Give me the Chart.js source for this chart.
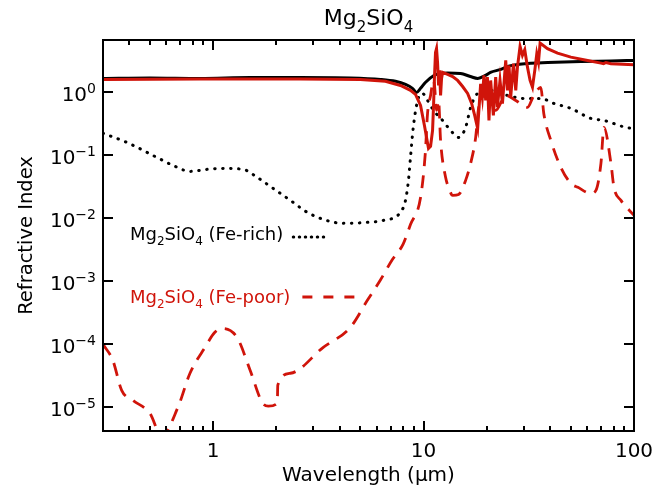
<!DOCTYPE html>
<html>
<head>
<meta charset="utf-8">
<script src="https://cdn.jsdelivr.net/npm/chart.js@4"></script>
<style>
  html, body { margin: 0; padding: 0; background: #fff; }
</style>
</head>
<body>
<canvas id="chart" width="654" height="492"></canvas>
<script>
// Wavelength (micron) and refractive index values

// Fe-rich, real part (black solid)
const richN_wl = [0.30, 0.50, 0.87, 1.50, 2.60, 4.49, 6.24, 7.36, 8.21, 8.86, 9.26, 9.68, 10.2, 11.2, 12.0, 13.0, 15.0, 16.7, 18.1, 19.7, 20.8, 23.3, 25.1, 31.3, 38.9, 55.9, 77.7, 100];
const richN    = [1.67, 1.70, 1.67, 1.73, 1.73, 1.70, 1.61, 1.50, 1.34, 1.16, 1.00, 1.16, 1.44, 1.86, 2.00, 2.04, 2.00, 1.79, 1.67, 1.86, 2.08, 2.32, 2.59, 2.89, 2.99, 3.10, 3.16, 3.22];

// Fe-rich, imaginary part (black dotted)
const richK_wl = [0.30, 0.389, 0.541, 0.645, 0.777, 0.936, 1.12, 1.39, 1.62, 1.93, 2.33, 2.80, 3.34, 4.16, 5.41, 6.45, 7.77, 8.21, 8.48, 8.67, 8.96, 9.47, 9.89, 10.45, 11.16, 12.32, 13.45, 14.68, 15.85, 16.74, 18.08, 20.84, 25.1, 29.9, 36.1, 41.6, 50.1, 62.4, 72.0, 91.6, 100];
const richK    = [0.224, 0.161, 0.0929, 0.0694, 0.0557, 0.0600, 0.0622, 0.0600, 0.0448, 0.0299, 0.0193, 0.0125, 0.00964, 0.00833, 0.00865, 0.00929, 0.0125, 0.0193, 0.0401, 0.0929, 0.299, 0.833, 0.964, 0.746, 0.518, 0.359, 0.249, 0.193, 0.278, 0.578, 0.964, 1.08, 0.896, 0.803, 0.803, 0.669, 0.557, 0.386, 0.359, 0.278, 0.268];

// Fe-poor, real part (red solid)
const poorN_wl = [0.30, 0.867, 2.60, 5.01, 6.59, 7.77, 8.67, 9.16, 9.68, 10.1, 10.56, 10.80, 11.04, 11.16, 11.28, 11.40, 11.53, 11.66, 11.79, 11.92, 12.05, 12.18, 12.32, 13.01, 13.75, 14.52, 15.34, 16.20, 16.93, 17.50, 18.08,
                  18.68, 19.03, 19.37, 19.74, 20.11, 20.46, 20.84, 21.47, 22.02, 22.44, 23.09, 23.71, 24.58, 25.04, 25.48, 25.96, 26.74, 27.43, 27.94, 28.75, 29.51, 30.27, 31.18, 32.08, 32.93, 33.78, 34.52, 35.17, 35.80,
                  38.81, 43.32, 50.12, 60.20, 69.65, 71.73, 73.56, 77.71, 100];
const poorN    = [1.61, 1.64, 1.64, 1.61, 1.50, 1.29, 1.08, 0.93, 0.622, 0.299, 0.129, 0.139, 0.249, 0.622, 1.86, 4.32, 4.99, 2.99, 1.29, 2.24, 0.896, 1.67, 2.08, 1.93, 1.79, 1.55, 1.24, 0.964, 0.669, 0.431, 0.268,
                  1.37, 0.842, 1.86, 0.746, 1.75, 0.359, 1.55, 0.431, 1.75, 0.584, 1.55, 0.662, 3.22, 1.08, 2.68, 0.842, 2.86, 1.08, 2.52, 5.37, 3.87, 4.76, 2.52, 1.55, 1.21, 2.24, 4.11, 3.03, 6.06,
                  4.94, 4.21, 3.63, 3.22, 2.92, 2.86, 2.99, 2.86, 2.75];

// Fe-poor, imaginary part (red dashed)
const poorK_wl = [0.30, 0.334, 0.368, 0.416, 0.501, 0.57, 0.681, 0.777, 0.916, 1.02, 1.10, 1.30, 1.50, 1.71, 1.83, 2.02, 2.03, 2.33, 3.34, 4.49, 5.41, 6.24, 7.10, 8.00, 8.67, 9.68, 10.2, 10.45, 10.80, 11.16, 11.28, 11.53, 11.79, 12.05, 12.73, 13.15, 13.75, 14.68, 15.85, 16.74, 17.69, 18.28,
                  19.74, 22.02, 24.58, 27.43, 31.18, 33.41, 36.07, 37.27, 40.26, 44.92, 50.12, 54.12, 62.40, 65.92, 69.65, 71.97, 77.71, 80.32, 86.7, 100];
const poorK    = [1.0e-4, 5.57e-5, 1.86e-5, 1.29e-5, 8.03e-6, 3.5e-6, 1.0e-5, 3.47e-5, 8.96e-5, 1.55e-4, 1.79e-4, 1.29e-4, 3.87e-5, 1.20e-5, 1.04e-5, 1.16e-5, 2.24e-5, 3.47e-5, 8.96e-5, 1.86e-4, 4.99e-4, 1.05e-3, 2.2e-3, 3.9e-3, 8.0e-3, 0.0215, 0.11, 0.464, 0.896, 1.55, 1.29, 0.518, 0.746, 0.173, 0.0448, 0.0311, 0.0232, 0.024, 0.0401, 0.0746, 0.193, 0.578,
                  0.896, 0.518, 0.896, 0.746, 0.578, 0.896, 1.20, 0.464, 0.173, 0.0645, 0.0359, 0.0311, 0.0249, 0.0278, 0.0746, 0.278, 0.0746, 0.0311, 0.0193, 0.0112];

// Axis ticks
const xMajorTicks = [1, 10, 100];
const xTickLabels = ['1', '10', '100'];
const xMinorTicks = [0.4, 0.5, 0.6, 0.7, 0.8, 0.9, 2, 3, 4, 5, 6, 7, 8, 9, 20, 30, 40, 50, 60, 70, 80, 90];
const yTicks = [1e-5, 1e-4, 1e-3, 1e-2, 1e-1, 1];
const yTickExp = ['−5', '−4', '−3', '−2', '−1', '0'];

const RED = 'rgb(208,20,10)';
const FONT = 'DejaVu Sans';

function pts(wl, vals) {
    return wl.map((w, i) => ({ x: w, y: vals[i] }));
}

// draws text with subscripts: parts = [[text, isSub], ...]
function drawSubText(ctx, parts, x, y, size, color) {
    ctx.fillStyle = color;
    ctx.textBaseline = 'alphabetic';
    ctx.textAlign = 'left';
    let cx = x;
    parts.forEach(([t, sub]) => {
        ctx.font = (sub ? Math.round(size * 0.66) : size) + 'px "' + FONT + '"';
        ctx.fillText(t, cx, sub ? y + size * 0.3 : y);
        cx += ctx.measureText(t).width;
    });
    return cx;
}

function subWidth(ctx, parts, size) {
    let w = 0;
    parts.forEach(([t, sub]) => {
        ctx.font = (sub ? Math.round(size * 0.66) : size) + 'px "' + FONT + '"';
        w += ctx.measureText(t).width;
    });
    return w;
}

// frame, inward ticks, tick labels, title and the in-plot legend
const frameAndText = {
    id: 'frameAndText',
    afterDatasetsDraw(chart) {
        const { ctx, chartArea: a, scales: { x, y } } = chart;
        ctx.save();
        ctx.strokeStyle = '#000';
        ctx.lineWidth = 2;
        ctx.strokeRect(a.left, a.top, a.right - a.left, a.bottom - a.top);
        ctx.beginPath();
        xMajorTicks.concat(xMinorTicks).forEach(v => {
            const px = Math.round(x.getPixelForValue(v));
            const len = xMajorTicks.includes(v) ? 10 : 5;
            ctx.moveTo(px, a.bottom); ctx.lineTo(px, a.bottom - len);
            ctx.moveTo(px, a.top); ctx.lineTo(px, a.top + len);
        });
        yTicks.forEach(v => {
            const py = Math.round(y.getPixelForValue(v));
            ctx.moveTo(a.left, py); ctx.lineTo(a.left + 10, py);
            ctx.moveTo(a.right, py); ctx.lineTo(a.right - 10, py);
        });
        ctx.stroke();

        // tick labels
        ctx.fillStyle = '#000';
        ctx.textBaseline = 'alphabetic';
        ctx.textAlign = 'center';
        ctx.font = '20px "' + FONT + '"';
        xMajorTicks.forEach((v, i) => {
            ctx.fillText(xTickLabels[i], x.getPixelForValue(v), a.bottom + 26);
        });
        ctx.textAlign = 'right';
        yTicks.forEach((v, i) => {
            const py = y.getPixelForValue(v);
            const right = a.left - 7;
            ctx.font = '14px "' + FONT + '"';
            const ew = ctx.measureText(yTickExp[i]).width;
            ctx.fillText(yTickExp[i], right, py + 1);
            ctx.font = '20px "' + FONT + '"';
            ctx.fillText('10', right - ew, py + 9);
        });

        // title
        const title = [['Mg', false], ['2', true], ['SiO', false], ['4', true]];
        const tw = subWidth(ctx, title, 22);
        drawSubText(ctx, title, (a.left + a.right) / 2 - tw / 2, 25, 22, '#000');

        // legend
        const rich = [['Mg', false], ['2', true], ['SiO', false], ['4', true], [' (Fe-rich)', false]];
        const poor = [['Mg', false], ['2', true], ['SiO', false], ['4', true], [' (Fe-poor)', false]];
        const e1 = drawSubText(ctx, rich, 130, 240, 18, '#000');
        const e2 = drawSubText(ctx, poor, 130, 303, 18, RED);

        ctx.lineWidth = 3;
        ctx.lineCap = 'round';
        ctx.strokeStyle = '#000';
        ctx.setLineDash([0.5, 5.5]);
        ctx.beginPath();
        ctx.moveTo(e1 + 10, 237); ctx.lineTo(e1 + 42, 237);
        ctx.stroke();

        ctx.lineCap = 'butt';
        ctx.lineWidth = 2.8;
        ctx.strokeStyle = RED;
        ctx.setLineDash([10, 11]);
        ctx.beginPath();
        ctx.moveTo(e2 + 12, 297); ctx.lineTo(e2 + 74, 297);
        ctx.stroke();
        ctx.restore();
    }
};

const ctx = document.getElementById('chart').getContext('2d');
const chart = new Chart(ctx, {
    type: 'line',
    data: {
        datasets: [{
            label: 'Fe-poor n',
            data: pts(poorN_wl, poorN),
            borderColor: RED,
            borderWidth: 3,
            order: 0
        }, {
            label: 'Fe-poor k',
            data: pts(poorK_wl, poorK),
            borderColor: RED,
            borderWidth: 2.8,
            borderDash: [13, 9],
            cubicInterpolationMode: 'monotone',
            order: 1
        }, {
            label: 'Fe-rich n',
            data: pts(richN_wl, richN),
            borderColor: '#000',
            borderWidth: 3,
            cubicInterpolationMode: 'monotone',
            order: 2
        }, {
            label: 'Fe-rich k',
            data: pts(richK_wl, richK),
            borderColor: '#000',
            borderWidth: 3,
            borderDash: [0.5, 7.5],
            borderCapStyle: 'round',
            cubicInterpolationMode: 'monotone',
            order: 3
        }]
    },
    options: {
        responsive: false,
        animation: false,
        layout: { padding: { top: 40, right: 20, left: 0, bottom: 0 } },
        elements: { point: { radius: 0 }, line: { tension: 0 } },
        plugins: { legend: { display: false }, tooltip: { enabled: false } },
        scales: {
            x: {
                type: 'logarithmic',
                min: 0.3,
                max: 100,
                grid: { display: false, drawTicks: false },
                border: { display: false },
                afterBuildTicks: s => { s.ticks = xMajorTicks.map(v => ({ value: v })); },
                afterFit: s => { s.height = 61; },
                ticks: { display: false },
                title: {
                    display: true,
                    text: 'Wavelength (μm)',
                    color: '#000',
                    font: { family: FONT, size: 20 },
                    padding: { top: 0, bottom: 4 }
                }
            },
            y: {
                type: 'logarithmic',
                min: 4.2e-6,
                max: 6.8,
                grid: { display: false, drawTicks: false },
                border: { display: false },
                afterBuildTicks: s => { s.ticks = yTicks.map(v => ({ value: v })); },
                afterFit: s => { s.width = 103; },
                ticks: { display: false },
                title: {
                    display: true,
                    text: 'Refractive Index',
                    color: '#000',
                    font: { family: FONT, size: 19.5 },
                    padding: { top: 15, bottom: 0 }
                }
            }
        }
    },
    plugins: [frameAndText]
});
</script>
</body>
</html>
